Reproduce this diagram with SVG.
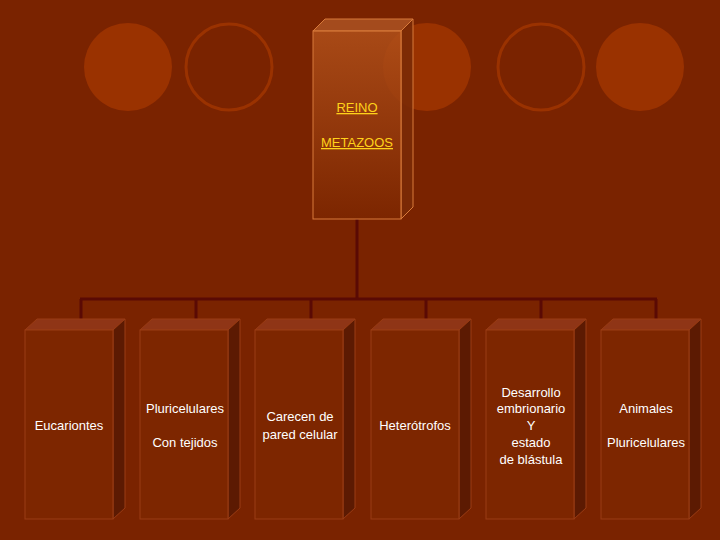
<svg xmlns="http://www.w3.org/2000/svg" width="720" height="540" viewBox="0 0 720 540">
<defs>
<linearGradient id="g" x1="0" y1="0" x2="0" y2="1"><stop offset="0" stop-color="#b0501a" stop-opacity="0.85"/><stop offset="1" stop-color="#7c2600" stop-opacity="0.9"/></linearGradient>
<style>
.f{fill:#7d2600;stroke:#9a3c14;stroke-width:1}
.s{fill:#5c1a02;stroke:#9a3c14;stroke-width:1}
.t{fill:#8f3516;stroke:#9a3c14;stroke-width:1}
.l{font-family:"Liberation Sans",Arial,sans-serif;font-size:13px;fill:#ffffff;text-anchor:middle}
.h{font-family:"Liberation Sans",Arial,sans-serif;font-size:13px;fill:#ffd21a;text-anchor:middle;text-decoration:underline}
.c{fill:#9a3200}
.r{fill:none;stroke:#9a3200;stroke-width:3}
</style>
</defs>
<rect width="720" height="540" fill="#7a2300"/>
<g id="decor">
<circle class="c" cx="128" cy="67" r="44"/>
<circle class="r" cx="229" cy="67" r="43"/>
<circle class="c" cx="427" cy="67" r="44"/>
<circle class="r" cx="541" cy="67" r="43"/>
<circle class="c" cx="640" cy="67" r="44"/>
</g>
<g id="connectors" stroke="#5a0a04" stroke-width="3" fill="none">
<path d="M357 219V299M80 299H657M81 299V320M196 299V320M311 299V320M426 299V320M541 299V320M656 299V320"/>
</g>
<g id="root">
<path d="M313 31L325 19H413L401 31Z" fill="#a85020" fill-opacity="0.9" stroke="#d87a3a"/>
<path d="M401 31L413 19V207L401 219Z" fill="#7a2a06" fill-opacity="0.9" stroke="#d87a3a"/>
<rect x="313" y="31" width="88" height="188" fill="url(#g)" stroke="#d87a3a"/>
<text class="h" x="357" y="112">REINO</text>
<text class="h" x="357" y="147">METAZOOS</text>
</g>
<g id="n1"><path class="t" d="M25 330L37 319H125L113 330Z"/><path class="s" d="M113 330L125 319V508L113 519Z"/><rect class="f" x="25" y="330" width="88" height="189"/>
<text class="l" x="69" y="430">Eucariontes</text></g>
<g id="n2"><path class="t" d="M140 330L152 319H240L228 330Z"/><path class="s" d="M228 330L240 319V508L228 519Z"/><rect class="f" x="140" y="330" width="88" height="189"/>
<text class="l" x="185" y="413">Pluricelulares</text><text class="l" x="185" y="447">Con tejidos</text></g>
<g id="n3"><path class="t" d="M255 330L267 319H355L343 330Z"/><path class="s" d="M343 330L355 319V508L343 519Z"/><rect class="f" x="255" y="330" width="88" height="189"/>
<text class="l" x="300" y="421">Carecen de</text><text class="l" x="300" y="439">pared celular</text></g>
<g id="n4"><path class="t" d="M371 330L383 319H471L459 330Z"/><path class="s" d="M459 330L471 319V508L459 519Z"/><rect class="f" x="371" y="330" width="88" height="189"/>
<text class="l" x="415" y="430">Heterótrofos</text></g>
<g id="n5"><path class="t" d="M486 330L498 319H586L574 330Z"/><path class="s" d="M574 330L586 319V508L574 519Z"/><rect class="f" x="486" y="330" width="88" height="189"/>
<text class="l" x="531" y="397">Desarrollo</text><text class="l" x="531" y="413">embrionario</text><text class="l" x="531" y="430">Y</text><text class="l" x="531" y="447">estado</text><text class="l" x="531" y="464">de blástula</text></g>
<g id="n6"><path class="t" d="M601 330L613 319H701L689 330Z"/><path class="s" d="M689 330L701 319V508L689 519Z"/><rect class="f" x="601" y="330" width="88" height="189"/>
<text class="l" x="646" y="413">Animales</text><text class="l" x="646" y="447">Pluricelulares</text></g>
</svg>
